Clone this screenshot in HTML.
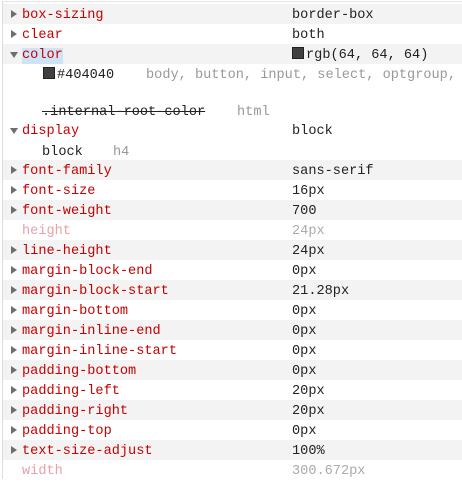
<!DOCTYPE html>
<html><head><style>
body{margin:0;width:462px;height:479px;background:#fff;overflow:hidden;font-family:"Liberation Mono",monospace;font-size:13.6px;position:relative}
.frame{position:absolute;left:2px;top:1px;right:0;bottom:0;border-left:1px solid #ddd;border-top:1px solid #e4e4e4}
.r{position:absolute;left:3px;width:459px;height:20px;line-height:20px}
.g{background:#f3f3f3}
.t{position:absolute;left:8px;top:6px;width:0;height:0;border-left:6px solid #6e6e6e;border-top:4px solid transparent;border-bottom:4px solid transparent}
.d{left:7px;top:8px;border-left:4px solid transparent;border-right:4px solid transparent;border-top:6px solid #6e6e6e;border-bottom:0}
.n{position:absolute;left:19px;top:2px;color:#c80000}
.v{position:absolute;left:289px;top:2px;color:#222}
.in .n{color:#e8a0a8}.in .v{color:#aaa}
.s{position:absolute;white-space:pre}
.sw{display:inline-block;width:10px;height:10px;background:#404040;border:1px solid #222;margin-right:2px;vertical-align:-1px}
</style></head><body>
<div class="frame"></div>
<div class="r g" style="top:4px"><div class="t"></div><span class="n">box-sizing</span><span class="v">border-box</span></div>
<div class="r" style="top:24px"><div class="t"></div><span class="n">clear</span><span class="v">both</span></div>
<div class="r g" style="top:44px"><div class="t d"></div><span class="n" style="background:#cfe3f7;line-height:16px;top:4px">color</span><span class="v"><span class="sw"></span>rgb(64, 64, 64)</span></div>
<div class="s" style="left:43px;top:66px;line-height:20px;color:#222"><span class="sw"></span>#404040</div>
<div class="s" style="left:146px;top:66px;line-height:20px;color:#999">body, button, input, select, optgroup,</div>
<div class="s" style="left:42px;top:103px;line-height:20px;color:#222;text-decoration:line-through">.internal-root-color</div>
<div class="s" style="left:237px;top:103px;line-height:20px;color:#999">html</div>
<div class="r" style="top:120px"><div class="t d"></div><span class="n">display</span><span class="v">block</span></div>
<div class="s" style="left:42px;top:143px;line-height:20px;color:#222">block</div>
<div class="s" style="left:113px;top:143px;line-height:20px;color:#999">h4</div>
<div class="r g" style="top:160px"><div class="t"></div><span class="n">font-family</span><span class="v">sans-serif</span></div>
<div class="r" style="top:180px"><div class="t"></div><span class="n">font-size</span><span class="v">16px</span></div>
<div class="r g" style="top:200px"><div class="t"></div><span class="n">font-weight</span><span class="v">700</span></div>
<div class="r in" style="top:220px"><span class="n">height</span><span class="v">24px</span></div>
<div class="r g" style="top:240px"><div class="t"></div><span class="n">line-height</span><span class="v">24px</span></div>
<div class="r" style="top:260px"><div class="t"></div><span class="n">margin-block-end</span><span class="v">0px</span></div>
<div class="r g" style="top:280px"><div class="t"></div><span class="n">margin-block-start</span><span class="v">21.28px</span></div>
<div class="r" style="top:300px"><div class="t"></div><span class="n">margin-bottom</span><span class="v">0px</span></div>
<div class="r g" style="top:320px"><div class="t"></div><span class="n">margin-inline-end</span><span class="v">0px</span></div>
<div class="r" style="top:340px"><div class="t"></div><span class="n">margin-inline-start</span><span class="v">0px</span></div>
<div class="r g" style="top:360px"><div class="t"></div><span class="n">padding-bottom</span><span class="v">0px</span></div>
<div class="r" style="top:380px"><div class="t"></div><span class="n">padding-left</span><span class="v">20px</span></div>
<div class="r g" style="top:400px"><div class="t"></div><span class="n">padding-right</span><span class="v">20px</span></div>
<div class="r" style="top:420px"><div class="t"></div><span class="n">padding-top</span><span class="v">0px</span></div>
<div class="r g" style="top:440px"><div class="t"></div><span class="n">text-size-adjust</span><span class="v">100%</span></div>
<div class="r in" style="top:460px"><span class="n">width</span><span class="v">300.672px</span></div>
</body></html>
